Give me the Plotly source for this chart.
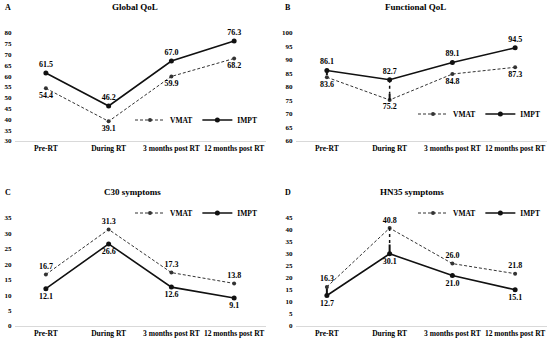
import plotly.graph_objects as go

categories = ["Pre-RT", "During RT", "3 months post RT", "12 months post RT"]

a_vmat = [54.4, 39.1, 59.9, 68.2]
a_impt = [61.5, 46.2, 67.0, 76.3]
b_vmat = [83.6, 75.2, 84.8, 87.3]
b_impt = [86.1, 82.7, 89.1, 94.5]
c_vmat = [16.7, 31.3, 17.3, 13.8]
c_impt = [12.1, 26.6, 12.6, 9.1]
d_vmat = [16.3, 40.8, 26.0, 21.8]
d_impt = [12.7, 30.1, 21.0, 15.1]

a_ticks = [30, 35, 40, 45, 50, 55, 60, 65, 70, 75, 80]
b_ticks = [60, 65, 70, 75, 80, 85, 90, 95, 100]
c_ticks = [0, 5, 10, 15, 20, 25, 30, 35]
d_ticks = [0, 5, 10, 15, 20, 25, 30, 35, 40, 45]

# significance connectors (value ranges)
b_pre_solid = [86.1, 84.4]
b_dur_dot = [82.7, 77.5]
b_dur_solid = [77.5, 75.2]
d_pre_solid = [12.7, 15.6]
d_dur_dot = [40.8, 34.0]
d_dur_solid = [34.0, 30.1]

titles = ["Global QoL", "Functional QoL", "C30 symptoms", "HN35 symptoms"]
letters = ["A", "B", "C", "D"]

W, H = 550, 340
FONT = "Liberation Serif"

def px_x(x):
    return x / W

def px_y(y):
    return 1 - y / H

fig = go.Figure()

panels = [
    (a_vmat, a_impt, a_ticks, (14.5, 265.5), (141, 33), True, "legend", (262, 120)),
    (b_vmat, b_impt, b_ticks, (295.5, 546.5), (141, 33), True, "legend2", (545, 114)),
    (c_vmat, c_impt, c_ticks, (14.5, 265.5), (326, 218), False, "legend3", (262, 213)),
    (d_vmat, d_impt, d_ticks, (295.5, 546.5), (326, 218), False, "legend4", (545, 213)),
]

txtfont = dict(family=FONT, size=8, color="#000", weight="bold")

for i, (vm, im, ticks, xd, yd, impt_above, lg, lpos) in enumerate(panels):
    n = "" if i == 0 else str(i + 1)
    xa, ya = "x" + n, "y" + n
    fig.add_trace(go.Scatter(
        x=categories, y=vm, name="VMAT", mode="lines+markers+text",
        text=[f"{v:.1f}" for v in vm],
        textposition="bottom center" if impt_above else "top center",
        textfont=txtfont, cliponaxis=False,
        line=dict(color="#333", width=1, dash="3px,2px"),
        marker=dict(size=4, color="#333"),
        xaxis=xa, yaxis=ya, legend=lg))
    fig.add_trace(go.Scatter(
        x=categories, y=im, name="IMPT", mode="lines+markers+text",
        text=[f"{v:.1f}" for v in im],
        textposition="top center" if impt_above else "bottom center",
        textfont=txtfont, cliponaxis=False,
        line=dict(color="#111", width=1.6),
        marker=dict(size=5, color="#111"),
        xaxis=xa, yaxis=ya, legend=lg))
    lay_x = dict(domain=[px_x(xd[0]), px_x(xd[1])], type="category",
                 range=[-0.5, 3.5], showline=True, linecolor="#d9d9d9",
                 linewidth=1, showgrid=False, zeroline=False, ticks="",
                 tickangle=0, automargin=False,
                 tickfont=dict(family=FONT, size=7.5, color="#000", weight="bold"),
                 anchor=ya, fixedrange=True)
    lay_y = dict(domain=[px_y(yd[0]), px_y(yd[1])], range=[ticks[0], ticks[-1]],
                 tickvals=ticks, showline=False, showgrid=False, zeroline=False,
                 ticks="", automargin=False,
                 tickfont=dict(family=FONT, size=7, color="#000", weight="bold"),
                 anchor=xa, ticklabelstandoff=2)
    fig.update_layout(**{"xaxis" + n: lay_x, "yaxis" + n: lay_y})
    fig.update_layout(**{lg: dict(
        x=px_x(lpos[0]), y=px_y(lpos[1]), xanchor="right", yanchor="middle",
        orientation="h", bgcolor="rgba(0,0,0,0)", itemwidth=30,
        font=dict(family=FONT, size=7.5, color="#000", weight="bold"),
        tracegroupgap=0)})

def seg(xa, ya, cat, ys, dash, width):
    fig.add_trace(go.Scatter(x=[cat, cat], y=ys, mode="lines", showlegend=False,
                             line=dict(color="#111", width=width, dash=dash),
                             xaxis=xa, yaxis=ya, hoverinfo="skip"))

seg("x2", "y2", categories[0], b_pre_solid, "solid", 2)
seg("x2", "y2", categories[1], b_dur_dot, "dot", 1.5)
seg("x2", "y2", categories[1], b_dur_solid, "solid", 2)
seg("x4", "y4", categories[0], d_pre_solid, "solid", 2)
seg("x4", "y4", categories[1], d_dur_dot, "dot", 1.5)
seg("x4", "y4", categories[1], d_dur_solid, "solid", 2)

title_pos = [(135, 7), (415, 7), (132, 192), (412, 192)]
letter_pos = [(8, 7), (288, 7), (8, 192), (288, 192)]
for t, (tx, ty), l, (lx, ly) in zip(titles, title_pos, letters, letter_pos):
    fig.add_annotation(text=t, x=px_x(tx), y=px_y(ty), xref="paper", yref="paper",
                       showarrow=False, xanchor="center", yanchor="middle",
                       font=dict(family=FONT, size=9, color="#000", weight="bold"))
    fig.add_annotation(text=l, x=px_x(lx), y=px_y(ly), xref="paper", yref="paper",
                       showarrow=False, xanchor="center", yanchor="middle",
                       font=dict(family=FONT, size=8, color="#000", weight="bold"))

fig.update_layout(width=W, height=H, margin=dict(l=0, r=0, t=0, b=0),
                  paper_bgcolor="white", plot_bgcolor="white", showlegend=True,
                  hovermode=False)

fig.write_html("out.html", config={"displayModeBar": False},
               post_script="document.body.style.margin='0px';document.body.style.overflow='hidden';")
